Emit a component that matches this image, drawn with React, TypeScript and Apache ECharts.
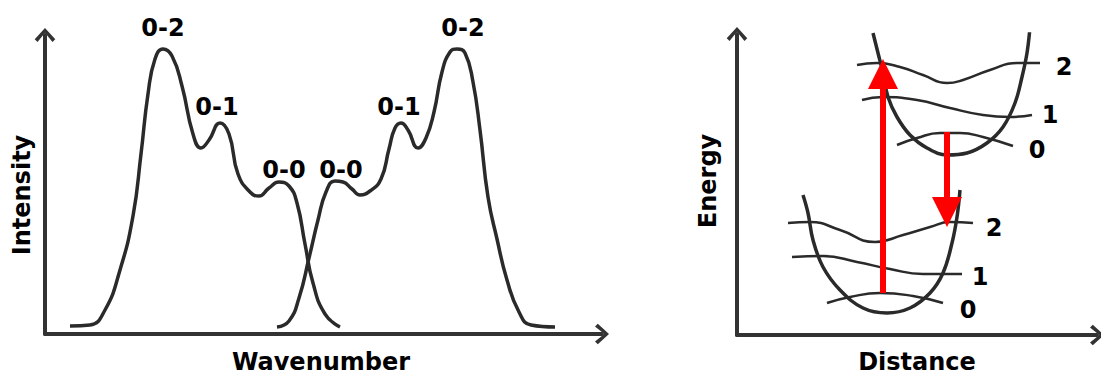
import React, { useEffect, useRef } from "react";
import * as echarts from "echarts";

// ---- Left panel: spectra (wavenumber units, intensity units) ----
const emissionSpectrum: [number, number][] = [
  [25, 8], [45, 9], [60, 24], [75, 64], [88, 118], [96, 180], [103, 240], [110, 275], [118, 285],
  [127, 278], [137, 248], [148, 200], [156, 186], [164, 194], [175, 211], [184, 200], [193, 160],
  [205, 142], [214, 138], [224, 146], [234, 152], [244, 148], [252, 131], [260, 90], [268, 51],
  [280, 20], [295, 7],
];
const absorptionSpectrum: [number, number][] = [
  [232, 7], [244, 13], [254, 36], [264, 76], [273, 114], [281, 142], [290, 153], [298, 152],
  [307, 145], [315, 139], [325, 143], [336, 155], [344, 185], [350, 206], [356, 211], [363, 204],
  [373, 186], [381, 196], [389, 222], [397, 262], [405, 282], [412, 285], [420, 281], [428, 252],
  [435, 204], [443, 137], [452, 95], [462, 54], [474, 22], [486, 9], [510, 7],
];
const peakLabels = ["0-2", "0-1", "0-0", "0-0", "0-1", "0-2"];

// ---- Right panel: potential wells (distance units, energy units) ----
const excitedWell: [number, number][] = [
  [136, 302], [141, 282], [146, 262], [151, 238], [160, 218], [173, 200], [190, 187], [210, 180],
  [230, 182], [250, 192], [266, 208], [278, 232], [285, 258], [290, 282], [293, 308],
];
const excitedLevel2: [number, number][] = [
  [120, 270], [140, 272], [163, 268], [186, 260], [210, 252], [226, 255], [253, 265], [280, 272], [303, 272],
];
const excitedLevel1: [number, number][] = [
  [125, 235], [146, 238], [180, 235], [213, 227], [246, 220], [273, 218], [295, 220],
];
const excitedLevel0: [number, number][] = [
  [160, 190], [180, 197], [203, 202], [223, 202], [246, 198], [276, 189],
];
const groundWell: [number, number][] = [
  [66, 140], [71, 122], [76, 95], [86, 68], [103, 45], [126, 27], [150, 22], [173, 27], [193, 42],
  [206, 62], [215, 92], [220, 118], [223, 145],
];
const groundLevel2: [number, number][] = [
  [51, 112], [73, 113], [103, 105], [138, 93], [166, 100], [193, 108], [213, 113], [236, 112],
];
const groundLevel1: [number, number][] = [
  [55, 78], [86, 79], [120, 73], [153, 66], [186, 61], [225, 61],
];
const groundLevel0: [number, number][] = [
  [90, 32], [113, 38], [143, 42], [176, 39], [206, 32],
];
const absorptionArrow: [number, number][] = [[146, 42], [146, 261]];
const emissionArrow: [number, number][] = [[210, 203], [210, 123]];
const levelLabels = ["2", "1", "0", "2", "1", "0"];

const INK = "#2a2a2a";
const FONT = "DejaVu Sans";
const chevron = "path://M0,12 L11,0 L22,12 L19,15 L11,5 L3,15 Z";

export default function App() {
  const ref = useRef<HTMLDivElement>(null);
  useEffect(() => {
    if (!ref.current) return;
    const chart = echarts.init(ref.current, undefined, { renderer: "svg" });

    const axisLine = {
      show: true,
      onZero: false,
      symbol: ["none", chevron],
      symbolSize: [22, 14],
      lineStyle: { color: "#333", width: 4 },
    };
    const hidden = { show: false };
    const mkAxis = (gi: number, max: number) => ({
      type: "value", gridIndex: gi, min: 0, max, axisLine, axisTick: hidden, axisLabel: hidden, splitLine: hidden,
    });
    const curve = (data: [number, number][], gi: number, width: number, smooth: number) => ({
      type: "line", xAxisIndex: gi, yAxisIndex: gi, data, smooth, showSymbol: false, silent: true,
      lineStyle: { color: INK, width }, z: 3,
    });
    const arrow = (pts: [number, number][]) => ({
      type: "lines", coordinateSystem: "cartesian2d", xAxisIndex: 1, yAxisIndex: 1, silent: true,
      symbol: ["none", "triangle"], symbolSize: 30, z: 10,
      lineStyle: { color: "#ff0000", width: 6, opacity: 1, curveness: 0 },
      data: [{ coords: pts }],
    });
    const txt = (text: string, x: number, y: number, rotation = 0) => ({
      type: "text", x, y, rotation, z: 20,
      style: { text, fill: "#000", font: `bold 24px '${FONT}'`, align: "center", verticalAlign: "middle" },
    });
    const peakPos = [[163, 28], [217, 107], [284, 170], [341, 170], [399, 107], [463, 28]];
    const levelPos = [[1064, 67], [1050, 115], [1037, 150], [994, 228], [980, 277], [968, 310]];

    chart.setOption({
      animation: false,
      backgroundColor: "#fff",
      grid: [
        { left: 45, top: 35, width: 557, height: 299 },
        { left: 737, top: 34, width: 360, height: 301 },
      ],
      xAxis: [mkAxis(0, 557), mkAxis(1, 360)],
      yAxis: [mkAxis(0, 299), mkAxis(1, 301)],
      series: [
        curve(emissionSpectrum, 0, 3.5, 0.5),
        curve(absorptionSpectrum, 0, 3.5, 0.5),
        curve(excitedWell, 1, 3.5, 0.4),
        curve(excitedLevel2, 1, 2.5, 0.5),
        curve(excitedLevel1, 1, 2.5, 0.5),
        curve(excitedLevel0, 1, 2.5, 0.5),
        curve(groundWell, 1, 3.5, 0.4),
        curve(groundLevel2, 1, 2.5, 0.5),
        curve(groundLevel1, 1, 2.5, 0.5),
        curve(groundLevel0, 1, 2.5, 0.5),
        arrow(absorptionArrow),
        arrow(emissionArrow),
      ],
      graphic: [
        ...peakLabels.map((t, i) => txt(t, peakPos[i][0], peakPos[i][1])),
        ...levelLabels.map((t, i) => txt(t, levelPos[i][0], levelPos[i][1])),
        txt("Wavenumber", 321, 362),
        txt("Distance", 917, 362),
        txt("Intensity", 22, 195, Math.PI / 2),
        txt("Energy", 708, 181, Math.PI / 2),
      ],
    });
    return () => chart.dispose();
  }, []);
  return (
    <div
      ref={ref}
      style={{ position: "fixed", left: 0, top: 0, width: 1101, height: 376, background: "#fff" }}
    />
  );
}
